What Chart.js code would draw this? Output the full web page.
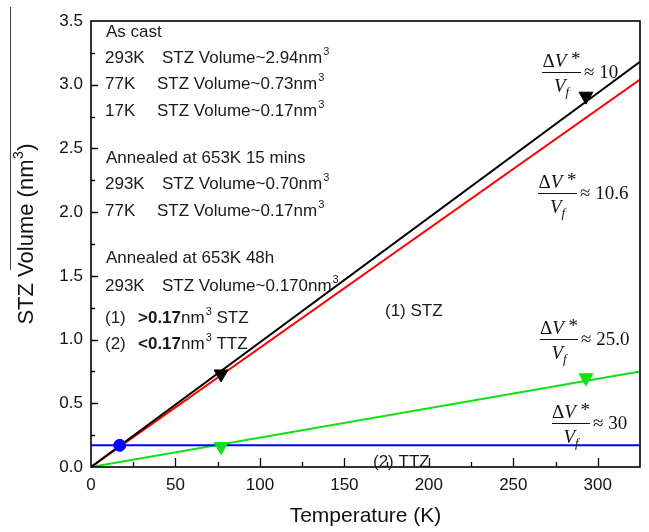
<!DOCTYPE html>
<html><head><meta charset="utf-8">
<script src="https://cdn.jsdelivr.net/npm/chart.js@4/dist/chart.umd.min.js"></script>
<style>html,body{margin:0;padding:0;background:#fff;}#wrap{width:649px;height:532px;position:relative;}</style>
</head><body><div id="wrap"><canvas id="c" width="649" height="532"></canvas></div>
<script>
// ---- data ----
const temperatureRange = [0, 325];          // K, fitted-line end points
const asCastFit      = [0, 3.18];           // black line (nm^3)
const annealed15Fit  = [0, 3.04];           // red line
const annealed48Fit  = [0, 0.75];           // green line
const ttzThreshold   = [0.17, 0.17];        // blue horizontal line
const asCastMarkT    = [77, 293];
const asCastMarkV    = [0.73, 2.91];        // black down-triangles
const annealedMarkT  = [77, 293];
const annealedMarkV  = [0.16, 0.70];        // green down-triangles
const ttzPointT      = [17];
const ttzPointV      = [0.17];              // blue circle
const xTickValues    = [0, 50, 100, 150, 200, 250, 300];
const yTickValues    = [0, 0.5, 1.0, 1.5, 2.0, 2.5, 3.0, 3.5];

const pts = (xs, ys) => xs.map((x, i) => ({x: x, y: ys[i]}));

const SANS = "'Liberation Sans', Arial, sans-serif";
const SERIF = "'Liberation Serif', 'Times New Roman', serif";

function drawSupText(ctx, parts, x, y) {
  // parts: [{t, bold, sup}]
  let cx = x;
  for (const p of parts) {
    if (p.sup) {
      ctx.font = "11px " + SANS;
      ctx.fillText(p.t, cx + 1, y - 8);
      cx += ctx.measureText(p.t).width + 1;
    } else {
      ctx.font = (p.bold ? "bold " : "") + "17px " + SANS;
      ctx.fillText(p.t, cx, y);
      cx += ctx.measureText(p.t).width;
    }
  }
}

function drawFrac(ctx, left, barY, barW, rhs) {
  ctx.save();
  ctx.fillStyle = '#111';
  ctx.strokeStyle = '#111';
  ctx.lineWidth = 1;
  ctx.beginPath();
  ctx.moveTo(left, barY + 0.5);
  ctx.lineTo(left + barW, barY + 0.5);
  ctx.stroke();
  ctx.textBaseline = 'alphabetic';
  // numerator  ΔV *
  const fU = "19px " + SERIF, fI = "italic 19px " + SERIF;
  ctx.font = fU; const wD = ctx.measureText('\u0394').width;
  ctx.font = fI; const wV = ctx.measureText('V').width;
  ctx.font = fU; const wS = ctx.measureText(' *').width;
  let nx = left + barW / 2 - (wD + wV + wS) / 2;
  const ny = barY - 5;
  ctx.font = fU; ctx.fillText('\u0394', nx, ny); nx += wD;
  ctx.font = fI; ctx.fillText('V', nx, ny); nx += wV;
  ctx.font = fU; ctx.fillText(' *', nx, ny - 2);
  // denominator V_f
  ctx.font = fI; const wV2 = ctx.measureText('V').width;
  ctx.font = "italic 13px " + SERIF; const wf = ctx.measureText('f').width;
  let dx = left + barW / 2 - (wV2 + wf) / 2;
  const dy = barY + 20;
  ctx.font = fI; ctx.fillText('V', dx, dy); dx += wV2;
  ctx.font = "italic 13px " + SERIF; ctx.fillText('f', dx, dy + 4);
  // right-hand side
  ctx.font = fU;
  ctx.textBaseline = 'middle';
  ctx.fillText(rhs, left + barW + 3, barY + 1);
  ctx.restore();
}

const decor = {
  id: 'decor',
  afterDraw(chart) {
    const ctx = chart.ctx;
    const a = chart.chartArea;
    const xs = chart.scales.x, ys = chart.scales.y;
    ctx.save();
    // inward tick marks (major + minor)
    ctx.strokeStyle = '#000';
    ctx.lineWidth = 1.3;
    ctx.beginPath();
    for (let v = 25; v < xs.max; v += 25) {
      const px = Math.round(xs.getPixelForValue(v)) + 0.5;
      const len = (v % 50 === 0) ? 9 : 5;
      ctx.moveTo(px, a.bottom);
      ctx.lineTo(px, a.bottom - len);
    }
    for (let k = 1; k * 0.25 < ys.max - 1e-9; k++) {
      const v = k * 0.25;
      const py = Math.round(ys.getPixelForValue(v)) + 0.5;
      const len = (k % 2 === 0) ? 7 : 4;
      ctx.moveTo(a.left, py);
      ctx.lineTo(a.left + len, py);
    }
    ctx.stroke();
    // frame
    ctx.lineWidth = 1.6;
    ctx.strokeRect(a.left, a.top, a.right - a.left, a.bottom - a.top);
    // scan artefact line at far left
    ctx.strokeStyle = '#444';
    ctx.lineWidth = 1;
    ctx.beginPath();
    ctx.moveTo(10.5, 7); ctx.lineTo(10.5, 270);
    ctx.stroke();

    // y-axis title with superscript
    ctx.save();
    ctx.fillStyle = '#111';
    ctx.translate(33, 234);
    ctx.rotate(-Math.PI / 2);
    ctx.textBaseline = 'alphabetic';
    ctx.font = "22px " + SANS;
    const t1 = 'STZ Volume (nm', t3 = ')';
    const w1 = ctx.measureText(t1).width, w3 = ctx.measureText(t3).width;
    ctx.font = "14px " + SANS;
    const w2 = ctx.measureText('3').width + 1;
    let sx = -(w1 + w2 + w3) / 2;
    ctx.font = "22px " + SANS; ctx.fillText(t1, sx, 0); sx += w1;
    ctx.font = "14px " + SANS; ctx.fillText('3', sx + 0.5, -10); sx += w2;
    ctx.font = "22px " + SANS; ctx.fillText(t3, sx, 0);
    ctx.restore();

    // left text block
    ctx.fillStyle = '#1a1a1a';
    ctx.textBaseline = 'alphabetic';
    ctx.font = "17px " + SANS;
    ctx.fillText('As cast', 106, 37);
    ctx.fillText('293K', 105, 63);
    drawSupText(ctx, [{t: 'STZ Volume~2.94nm'}, {t: '3', sup: true}], 162, 63);
    ctx.font = "17px " + SANS;
    ctx.fillText('77K', 105, 89);
    drawSupText(ctx, [{t: 'STZ Volume~0.73nm'}, {t: '3', sup: true}], 157, 89);
    ctx.font = "17px " + SANS;
    ctx.fillText('17K', 105, 116);
    drawSupText(ctx, [{t: 'STZ Volume~0.17nm'}, {t: '3', sup: true}], 157, 116);
    ctx.font = "17px " + SANS;
    ctx.fillText('Annealed at 653K 15 mins', 106, 163);
    ctx.fillText('293K', 105, 189);
    drawSupText(ctx, [{t: 'STZ Volume~0.70nm'}, {t: '3', sup: true}], 162, 189);
    ctx.font = "17px " + SANS;
    ctx.fillText('77K', 105, 216);
    drawSupText(ctx, [{t: 'STZ Volume~0.17nm'}, {t: '3', sup: true}], 157, 216);
    ctx.font = "17px " + SANS;
    ctx.fillText('Annealed at 653K 48h', 106, 263);
    ctx.fillText('293K', 105, 291);
    drawSupText(ctx, [{t: 'STZ Volume~0.170nm'}, {t: '3', sup: true}], 162, 291);
    ctx.font = "17px " + SANS;
    ctx.fillText('(1)', 105, 323);
    drawSupText(ctx, [{t: '>0.17', bold: true}, {t: 'nm'}, {t: '3', sup: true}, {t: ' STZ'}], 138, 323);
    ctx.font = "17px " + SANS;
    ctx.fillText('(2)', 105, 349);
    drawSupText(ctx, [{t: '<0.17', bold: true}, {t: 'nm'}, {t: '3', sup: true}, {t: ' TTZ'}], 138, 349);
    ctx.font = "17px " + SANS;
    ctx.fillText('(1) STZ', 385, 316);
    ctx.fillText('(2) TTZ', 373, 467);

    // right-hand fraction annotations
    drawFrac(ctx, 542, 72, 39, '\u2248 10');
    drawFrac(ctx, 538, 193, 39, '\u2248 10.6');
    drawFrac(ctx, 540, 339, 38, '\u2248 25.0');
    drawFrac(ctx, 552, 423, 38, '\u2248 30');
    ctx.restore();
  }
};

const lineDs = (label, ys, color) => ({
  label, data: pts(temperatureRange, ys), showLine: true, borderColor: color,
  backgroundColor: color, borderWidth: 2, pointRadius: 0, fill: false
});
const markDs = (label, xs, ys, color, style, rot, r) => ({
  label, data: pts(xs, ys), showLine: false, borderColor: color, backgroundColor: color,
  pointStyle: style, rotation: rot, pointRadius: r, pointBorderWidth: 1, pointHoverRadius: r
});

new Chart(document.getElementById('c'), {
  type: 'scatter',
  data: {
    datasets: [
      markDs('17K point', ttzPointT, ttzPointV, '#0000ff', 'circle', 0, 6),
      markDs('As cast', asCastMarkT, asCastMarkV, '#000000', 'triangle', 180, 8),
      markDs('Annealed 15 min', annealedMarkT, annealedMarkV, '#11e011', 'triangle', 180, 8),
      lineDs('As cast fit', asCastFit, '#000000'),
      lineDs('Annealed 15 min fit', annealed15Fit, '#ff0000'),
      lineDs('TTZ threshold', ttzThreshold, '#0000ff'),
      lineDs('Annealed 48h fit', annealed48Fit, '#11e011')
    ]
  },
  options: {
    responsive: false,
    animation: false,
    devicePixelRatio: 1,
    layout: {padding: {top: 21, right: 7, left: 0, bottom: 0}},
    plugins: {legend: {display: false}, tooltip: {enabled: false}},
    scales: {
      x: {
        type: 'linear', min: temperatureRange[0], max: temperatureRange[1],
        afterBuildTicks: s => { s.ticks = xTickValues.map(v => ({value: v})); },
        afterFit: s => { s.height = 65; },
        grid: {display: false, drawTicks: false},
        border: {display: false},
        ticks: {color: '#111', font: {family: SANS, size: 17}, padding: 8, maxRotation: 0,
                callback: v => String(v)},
        title: {display: true, text: 'Temperature (K)', color: '#111',
                font: {family: SANS, size: 21}, padding: {top: 0, bottom: 3}}
      },
      y: {
        type: 'linear', min: 0, max: 3.5,
        afterBuildTicks: s => { s.ticks = yTickValues.map(v => ({value: v})); },
        afterFit: s => { s.width = 91; },
        grid: {display: false, drawTicks: false},
        border: {display: false},
        ticks: {color: '#111', font: {family: SANS, size: 17}, padding: 8,
                callback: v => Number(v).toFixed(1)},
        title: {display: false}
      }
    }
  },
  plugins: [decor]
});
</script>
</body></html>
